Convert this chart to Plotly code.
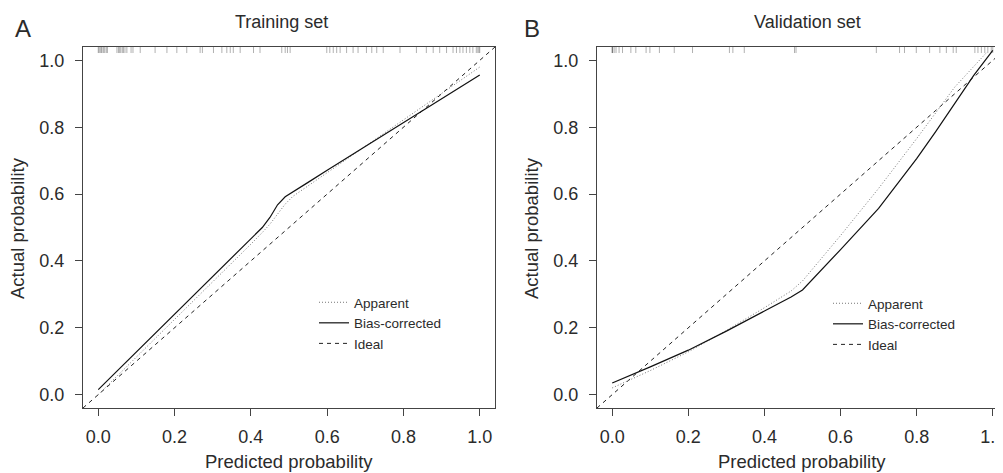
import plotly.graph_objects as go

# ---------------- data ----------------
tick_vals = [0.0, 0.2, 0.4, 0.6, 0.8, 1.0]
tick_text = ["0.0", "0.2", "0.4", "0.6", "0.8", "1.0"]

ideal_x = [-0.04, 1.04]
ideal_y = [-0.04, 1.04]

# Training set
train_pred = [0.0, 0.1, 0.2, 0.3, 0.4, 0.43, 0.45, 0.47, 0.49, 0.51, 0.55, 0.6, 0.7, 0.8, 0.9, 1.0]
train_bias = [0.015, 0.128, 0.24, 0.353, 0.465, 0.50, 0.53, 0.568, 0.592, 0.607, 0.635, 0.671, 0.742, 0.813, 0.885, 0.956]
train_app = [0.0, 0.112, 0.225, 0.337, 0.45, 0.485, 0.51, 0.54, 0.57, 0.593, 0.624, 0.664, 0.743, 0.822, 0.901, 0.98]
train_rug = [0.0, 0.002, 0.005, 0.008, 0.010, 0.014, 0.017, 0.021, 0.024, 0.049, 0.053, 0.056,
             0.059, 0.063, 0.066, 0.070, 0.075, 0.086, 0.091, 0.110, 0.149, 0.180, 0.206, 0.232,
             0.267, 0.273, 0.302, 0.324, 0.337, 0.346, 0.354, 0.372, 0.407, 0.424, 0.481, 0.490,
             0.496, 0.503, 0.599, 0.607, 0.616, 0.625, 0.634, 0.651, 0.668, 0.681, 0.703, 0.717,
             0.730, 0.747, 0.791, 0.834, 0.860, 0.878, 0.895, 0.913, 0.930, 0.939, 0.948, 0.956,
             0.965, 0.974, 0.982, 0.991, 0.995, 0.998, 1.0]

# Validation set
valid_pred = [0.0, 0.05, 0.1, 0.2, 0.3, 0.4, 0.47, 0.5, 0.55, 0.6, 0.7, 0.8, 0.85, 0.9, 0.95, 1.0]
valid_bias = [0.035, 0.058, 0.083, 0.133, 0.19, 0.25, 0.292, 0.313, 0.373, 0.434, 0.557, 0.706, 0.787, 0.872, 0.955, 1.03]
valid_app_pred = [0.0, 0.05, 0.1, 0.2, 0.3, 0.4, 0.47, 0.5, 0.55, 0.6, 0.7, 0.8, 0.9, 0.985]
valid_app = [0.02, 0.045, 0.072, 0.128, 0.192, 0.26, 0.31, 0.34, 0.408, 0.476, 0.617, 0.766, 0.92, 1.025]
valid_rug = [0.0, 0.0, 0.001, 0.005, 0.010, 0.018, 0.027, 0.049, 0.062, 0.089, 0.099, 0.124,
             0.163, 0.211, 0.308, 0.317, 0.347, 0.479, 0.483, 0.694, 0.755, 0.768, 0.799, 0.834,
             0.861, 0.878, 0.896, 0.904, 0.953, 0.961, 0.970, 0.979, 0.987, 0.996, 1.0]

# ---------------- styling ----------------
W, H = 1003, 473
OFF = 8  # page body margin offsets the figure on screen
FONT = "Liberation Sans, Arial, Helvetica, sans-serif"
TXT = "#2b2b2b"
AX = "#444444"
RUG_TOP, RUG_BOT = 1.04, 1.022


def pxx(x):
    return (x - OFF) / W


def pxy(y):
    return 1 - (y - OFF) / H


def rug_xy(vals):
    xs, ys = [], []
    for v in vals:
        xs += [v, v, None]
        ys += [RUG_TOP, RUG_BOT, None]
    return xs, ys


fig = go.Figure()

panels = [
    ("x", "y", "legend", train_pred, train_app, train_pred, train_bias, train_rug),
    ("x2", "y2", "legend2", valid_app_pred, valid_app, valid_pred, valid_bias, valid_rug),
]

for xa, ya, leg, ap_x, ap_y, bc_x, bc_y, rug in panels:
    rx, ry = rug_xy(rug)
    fig.add_trace(go.Scatter(x=rx, y=ry, mode="lines", xaxis=xa, yaxis=ya,
                             line=dict(color="rgba(60,60,60,0.4)", width=1),
                             showlegend=False, hoverinfo="skip"))
    fig.add_trace(go.Scatter(x=ideal_x, y=ideal_y, mode="lines", xaxis=xa, yaxis=ya,
                             line=dict(color="#222222", width=1, dash="4px,4px"),
                             name="Ideal", legend=leg, legendrank=3))
    fig.add_trace(go.Scatter(x=ap_x, y=ap_y, mode="lines", xaxis=xa, yaxis=ya,
                             line=dict(color="#777777", width=1, dash="1px,2px"),
                             name="Apparent", legend=leg, legendrank=1))
    fig.add_trace(go.Scatter(x=bc_x, y=bc_y, mode="lines", xaxis=xa, yaxis=ya,
                             line=dict(color="#111111", width=1.2),
                             name="Bias-corrected", legend=leg, legendrank=2))

axis_common = dict(showgrid=False, zeroline=False, showline=True, linecolor=AX, linewidth=1,
                   ticks="outside", ticklen=7, tickcolor=AX, tickwidth=1,
                   tickvals=tick_vals, ticktext=tick_text, mirror=True,
                   range=[-0.04, 1.04], ticklabeloverflow="allow",
                   tickfont=dict(family=FONT, size=18, color=TXT))

legend_common = dict(font=dict(family=FONT, size=13.5, color=TXT), bgcolor="rgba(0,0,0,0)",
                     xanchor="left", yanchor="top", tracegroupgap=0, itemwidth=30,
                     traceorder="normal")

fig.update_layout(
    width=W, height=H,
    margin=dict(l=0, r=0, t=0, b=0),
    paper_bgcolor="white", plot_bgcolor="white",
    font=dict(family=FONT, color=TXT),
    xaxis=dict(domain=[pxx(83), pxx(495)], anchor="y", ticklabelstandoff=5, **axis_common),
    yaxis=dict(domain=[pxy(408), pxy(47)], anchor="x", ticklabelstandoff=7, **axis_common),
    xaxis2=dict(domain=[pxx(597), pxx(1008)], anchor="y2", ticklabelstandoff=5, **axis_common),
    yaxis2=dict(domain=[pxy(408), pxy(47)], anchor="x2", ticklabelstandoff=7, **axis_common),
    legend=dict(x=pxx(314), y=pxy(287), **legend_common),
    legend2=dict(x=pxx(828), y=pxy(288), **legend_common),
    showlegend=True,
)

annots = [
    dict(text="A", x=pxx(23), y=pxy(28), size=24),
    dict(text="B", x=pxx(532), y=pxy(28), size=24),
    dict(text="Training set", x=pxx(281), y=pxy(22), size=18),
    dict(text="Validation set", x=pxx(807), y=pxy(22), size=18),
    dict(text="Predicted probability", x=pxx(289), y=pxy(461), size=18.5),
    dict(text="Predicted probability", x=pxx(802), y=pxy(461), size=18.5),
]
for a in annots:
    fig.add_annotation(text=a["text"], x=a["x"], y=a["y"], xref="paper", yref="paper",
                       xanchor="center", yanchor="middle", showarrow=False,
                       font=dict(family=FONT, size=a["size"], color=TXT))
for xpos in (18, 532):
    fig.add_annotation(text="Actual probability", x=pxx(xpos), y=pxy(228), xref="paper",
                       yref="paper", xanchor="center", yanchor="middle", showarrow=False,
                       textangle=-90, font=dict(family=FONT, size=18.5, color=TXT))

fig.write_html("out.html")
